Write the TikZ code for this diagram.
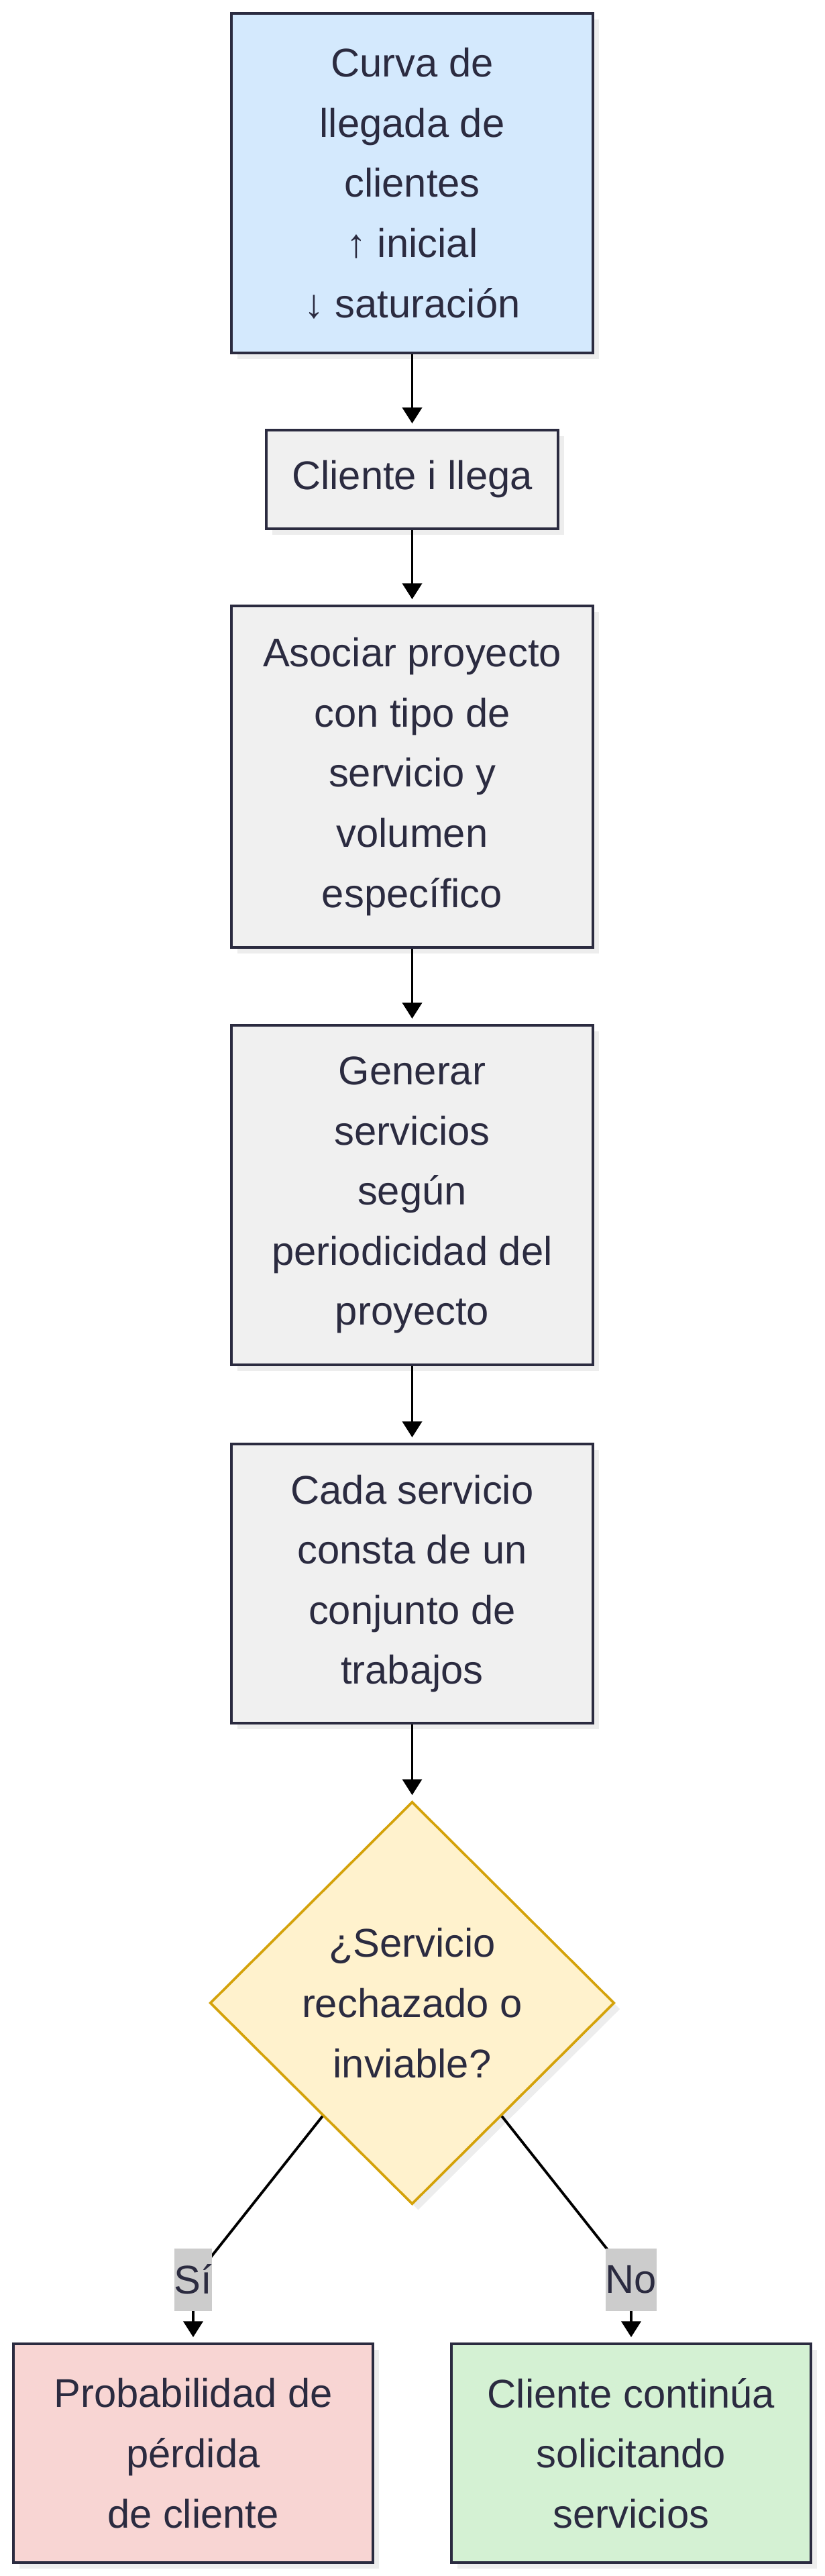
\documentclass[tikz,border=0pt]{standalone}
\usepackage{fontspec}
\setmainfont{Liberation Sans}
\usetikzlibrary{arrows.meta,shapes.geometric,shadows}
\definecolor{texto}{HTML}{2B2B40}
\definecolor{borde}{HTML}{2B2B40}
\definecolor{azul}{HTML}{D4E9FD}
\definecolor{gris}{HTML}{F0F0F0}
\definecolor{amarillo}{HTML}{FFF2CD}
\definecolor{dorado}{HTML}{D4A20A}
\definecolor{rojo}{HTML}{F8D5D3}
\definecolor{verde}{HTML}{D4F1D3}
\definecolor{etiq}{HTML}{CCCCCC}

\begin{document}
\begin{tikzpicture}[
	caja/.style={draw=borde,line width=2.3pt,fill=gris,text=texto,align=center,inner sep=0pt,
		minimum width=10.78cm,
		drop shadow={shadow xshift=.18cm,shadow yshift=-.18cm,fill=black!7,opacity=1},
		font=\fontsize{34}{51}\selectfont},
	decision/.style={diamond,aspect=1,draw=dorado,line width=2.1pt,fill=amarillo,text=texto,align=center,inner sep=0pt,
		minimum width=12.06cm,minimum height=12cm,
		drop shadow={shadow xshift=.18cm,shadow yshift=-.18cm,fill=black!7,opacity=1},
		font=\fontsize{34}{51}\selectfont},
	etiqueta/.style={fill=etiq,text=texto,inner xsep=0pt,inner ysep=0pt,minimum height=1.86cm,
		font=\fontsize{34}{51}\selectfont},
	flecha/.style={line width=2.2pt,-{Triangle[width=16.5pt,length=13.5pt]},shorten >=4.5pt}
	]
	\useasboundingbox (0,0) rectangle (24.58,-76.78);
	\node[caja,fill=azul,minimum height=10.12cm] (b1) at (12.29,-5.46)
		{Curva de\\llegada de\\clientes\\↑ inicial\\↓ saturación};
	\node[caja,minimum width=8.7cm,minimum height=2.94cm] (b2) at (12.29,-14.29) {Cliente i llega};
	\node[caja,minimum height=10.18cm] (b3) at (12.29,-23.15)
		{Asociar proyecto\\con tipo de\\servicio y\\volumen\\específico};
	\node[caja,minimum height=10.12cm] (b4) at (12.29,-35.62)
		{Generar\\servicios\\según\\periodicidad del\\proyecto};
	\node[caja,minimum height=8.32cm] (b5) at (12.29,-47.2)
		{Cada servicio\\consta de un\\conjunto de\\trabajos};
	\node[decision] (dec) at (12.29,-59.7) {¿Servicio\\rechazado o\\inviable?};
	\node[caja,fill=rojo,minimum width=10.72cm,minimum height=6.52cm] (izq) at (5.76,-73.12)
		{Probabilidad de\\pérdida\\de cliente};
	\node[caja,fill=verde,minimum width=10.72cm,minimum height=6.52cm] (der) at (18.82,-73.12)
		{Cliente continúa\\solicitando\\servicios};
	\path
	(5.76,-67.94) coordinate (si)
	(18.82,-67.94) coordinate (no)
	;
	\foreach \a/\b in {b1/b2,b2/b3,b3/b4,b4/b5,b5/dec} \draw[flecha] (\a) -- (\b);
	\draw[flecha] (dec) -- (si) -- (izq);
	\draw[flecha] (dec) -- (no) -- (der);
	\node[etiqueta] (lsi) at (si) {Sí};
	\node[etiqueta] (lno) at (no) {No};
\end{tikzpicture}
\end{document}
